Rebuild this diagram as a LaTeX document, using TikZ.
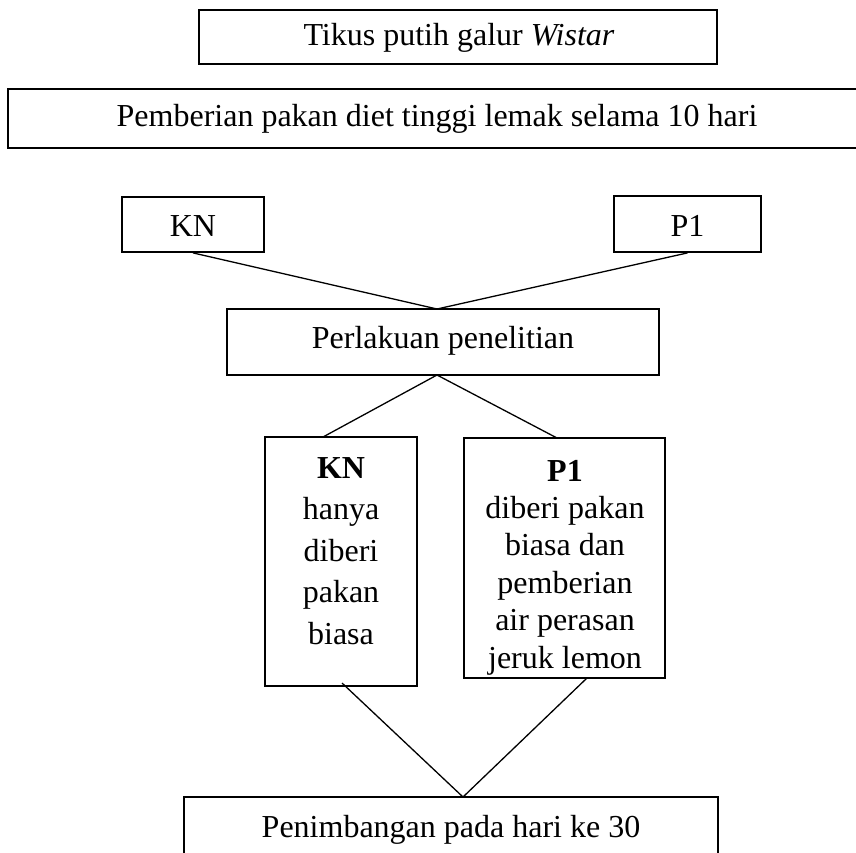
\documentclass[tikz,border=0pt]{standalone}
\usepackage{fontspec}
\setmainfont{Liberation Serif}
\begin{document}
\begin{tikzpicture}[x=1pt,y=-1pt,
  every node/.style={font=\fontsize{32}{38}\selectfont},
  thickbox/.style={draw, line width=1.8pt, inner sep=0pt},
  thinbox/.style={draw, line width=1.3pt, inner sep=0pt},
  conn/.style={draw, line width=1.3pt},
  lbl/.style={inner sep=0pt, align=center}]
\useasboundingbox (0,0) rectangle (856,852);
\clip (0,0) rectangle (856,852);
% boxes
\node[thickbox, minimum width=518pt, minimum height=54pt] (tikus) at (458,37) {};
\node[lbl] (tikusT) at (459,38) {Tikus putih galur \textit{Wistar}};
\node[thickbox, minimum width=862pt, minimum height=59pt] (diet) at (439,118.5) {};
\node[lbl] (dietT) at (437,119) {Pemberian pakan diet tinggi lemak selama 10 hari};
\node[thickbox, minimum width=142pt, minimum height=55pt] (kn) at (193,224.5) {};
\node[lbl] (knT) at (193,226) {KN};
\node[thickbox, minimum width=147pt, minimum height=56pt] (p1) at (687.5,224) {};
\node[lbl] (p1T) at (687.5,226) {P1};
\node[thinbox, minimum width=432pt, minimum height=66pt] (perl) at (443,342) {};
\node[lbl] (perlT) at (443,341) {Perlakuan penelitian};
\node[thinbox, minimum width=152pt, minimum height=249pt] (kntall) at (341,561.5) {};
\node[lbl, font=\fontsize{32}{41.5}\selectfont] (kntallT) at (341,551)
  {\textbf{KN}\\hanya\\diberi\\pakan\\biasa};
\node[thinbox, minimum width=201pt, minimum height=240pt] (p1tall) at (564.5,558) {};
\node[lbl, font=\fontsize{32}{37.4}\selectfont] (p1tallT) at (565,567.5)
  {\textbf{P1}\\diberi pakan\\biasa dan\\pemberian\\air perasan\\jeruk lemon};
\node[thinbox, minimum width=534pt, minimum height=67pt] (timbang) at (451,830.5) {};
\node[lbl] (timbangT) at (451,830) {Penimbangan pada hari ke 30};
% junction points
\coordinate (a1) at (437,309);
\coordinate (a2) at (437,375);
\coordinate (kntop) at (323,437);
\coordinate (p1top) at (557,438);
\coordinate (knbot) at (342,683);
\coordinate (p1bot) at (587,678);
\coordinate (a3) at (463,797);
% connectors
\draw[conn] (kn.south) -- (a1) -- (p1.south);
\draw[conn] (kntop) -- (a2) -- (p1top);
\draw[conn] (knbot) -- (a3) -- (p1bot);
\end{tikzpicture}
\end{document}
